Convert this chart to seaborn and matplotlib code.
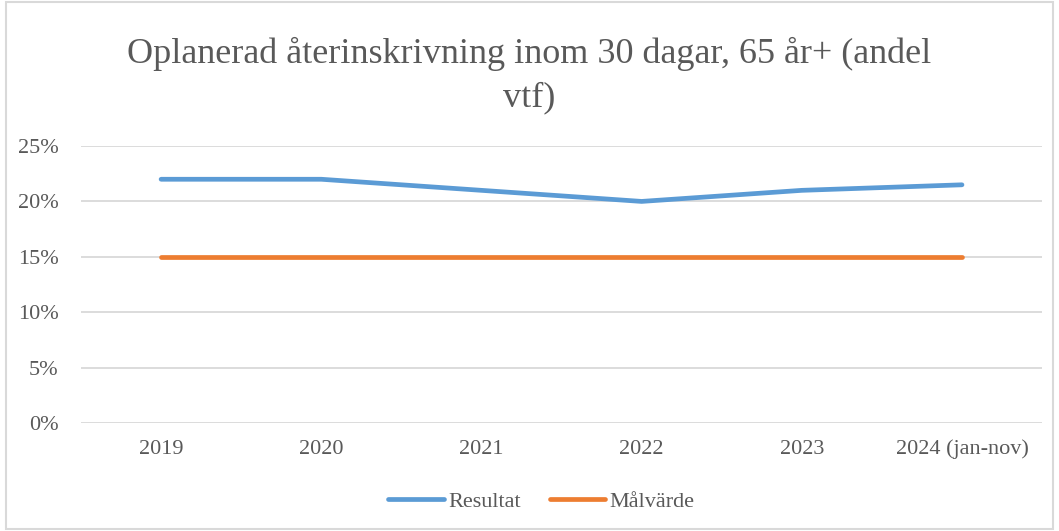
import seaborn as sns
import matplotlib.pyplot as plt
import pandas as pd
from matplotlib.patches import Rectangle
from matplotlib.ticker import PercentFormatter

years = ['2019', '2020', '2021', '2022', '2023', '2024 (jan-nov)']
resultat = [22.0, 22.0, 21.0, 20.0, 21.0, 21.5]
malvarde = [15, 15, 15, 15, 15, 15]

df = pd.DataFrame({
    'year': years * 2,
    'value': resultat + malvarde,
    'serie': ['Resultat'] * len(years) + ['Målvärde'] * len(years),
})

sns.set_style('white')
plt.rcParams['font.family'] = ['Liberation Serif', 'DejaVu Serif']
grey = '#595959'

fig = plt.figure(figsize=(10.59, 5.31), dpi=100)
ax = fig.add_axes([0.0765, 0.2034, 0.9075, 0.5216])

sns.lineplot(data=df, x='year', y='value', hue='serie',
             palette={'Resultat': '#5b9bd5', 'Målvärde': '#ed7d31'},
             linewidth=3.4, sort=False, ax=ax, legend=True)
for ln in ax.lines:
    ln.set_solid_capstyle('round')

ax.set_xlim(-0.5, len(years) - 0.5)
ax.set_ylim(0, 25)
ax.set_yticks([0, 5, 10, 15, 20, 25])
ax.yaxis.set_major_formatter(PercentFormatter(decimals=0))
ax.grid(axis='y', color='#d9d9d9', linewidth=1.3)
ax.set_axisbelow(True)
for s in ax.spines.values():
    s.set_visible(False)
ax.set_xlabel('')
ax.set_ylabel('')
ax.tick_params(axis='both', length=0, labelsize=16, labelcolor=grey)
ax.tick_params(axis='x', pad=12)
ax.tick_params(axis='y', pad=16)

# legend sits a bit left of the plot centre, like in the original
leg = ax.legend(loc='upper center', bbox_to_anchor=(0.479, -0.175), ncol=2,
                frameon=False, fontsize=16, handlelength=2.5,
                handletextpad=0.2, columnspacing=1.3)
for t in leg.get_texts():
    t.set_color(grey)
for h in leg.get_lines():
    h.set_linewidth(3.4)
    h.set_solid_capstyle('round')

fig.text(0.5, 0.93, 'Oplanerad återinskrivning inom 30 dagar, 65 år+ (andel\nvtf)',
         ha='center', va='top', fontsize=26, color=grey, linespacing=1.4)

fig.patches.append(Rectangle((0.006, 0.003), 0.988, 0.994, transform=fig.transFigure,
                             fill=False, edgecolor='#d9d9d9', linewidth=1.5))

fig.savefig('out.png', dpi=100)
